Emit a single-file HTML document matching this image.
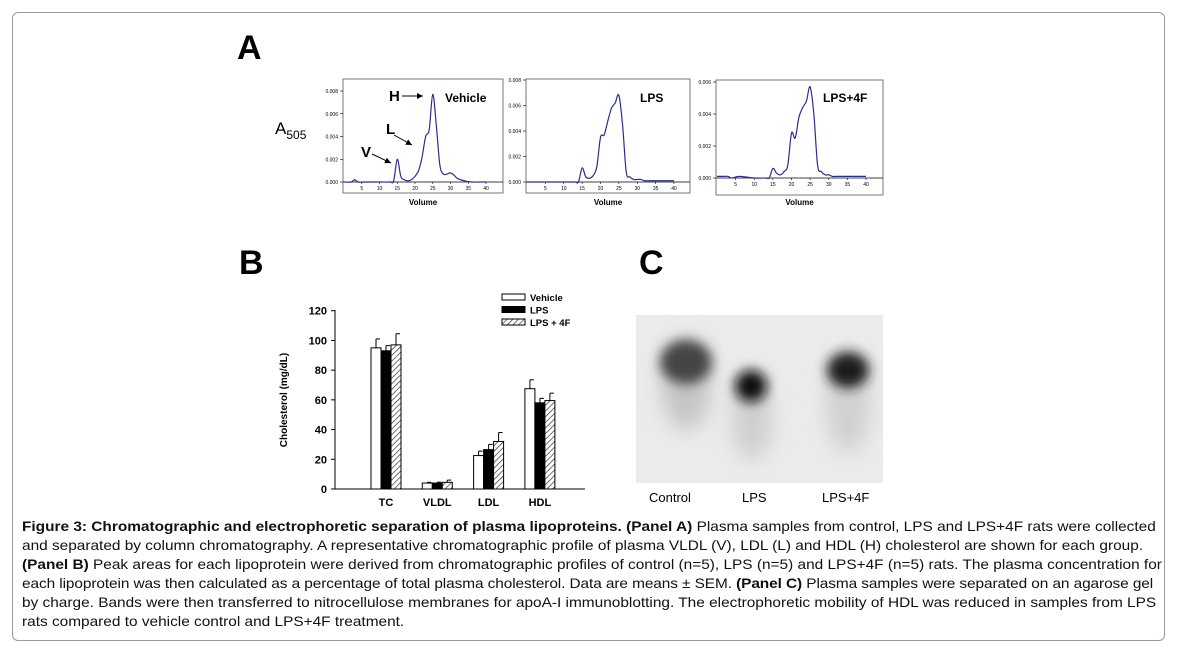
<!DOCTYPE html>
<html><head><meta charset="utf-8">
<style>
body{margin:0;background:#fff;width:1180px;height:647px;overflow:hidden;font-family:"Liberation Sans",Arial,sans-serif}
#frame{position:absolute;left:12px;top:12px;width:1151px;height:627px;border:1px solid #9a9a9a;border-radius:6px}
.cap{position:absolute;left:22px;top:517px;font-size:14px;line-height:19px;color:#111;white-space:nowrap;transform:scaleX(1.1);transform-origin:0 0}
.cap div{height:19px}
</style></head><body>
<div id="frame"></div>
<svg id="fig" width="1180" height="647" style="position:absolute;left:0;top:0">
<defs>
<pattern id="hatch" width="4" height="4" patternUnits="userSpaceOnUse" patternTransform="rotate(45)">
<rect width="4" height="4" fill="#fff"/><line x1="0" y1="0" x2="0" y2="4" stroke="#333" stroke-width="1.4"/></pattern>
<filter id="blur" x="-100%" y="-100%" width="300%" height="300%"><feGaussianBlur stdDeviation="6"/></filter>
<filter id="blur2" x="-100%" y="-100%" width="300%" height="300%"><feGaussianBlur stdDeviation="10"/></filter>
<clipPath id="gelclip"><rect x="636" y="315" width="247" height="168"/></clipPath>
</defs>
<text x="237" y="59" font-size="34" font-weight="bold">A</text>
<text x="239" y="274" font-size="34" font-weight="bold">B</text>
<text x="639" y="274" font-size="34" font-weight="bold">C</text>
<text x="275" y="134" font-size="17">A<tspan font-size="12" dy="5">505</tspan></text>
<g id="chroms"></g>
<g id="bars"></g>
<g id="gel" clip-path="url(#gelclip)">
<rect x="636" y="315" width="247" height="168" fill="#ebebeb"/>
<ellipse cx="686" cy="385" rx="24" ry="45" fill="#c4c4c4" filter="url(#blur2)"/>
<ellipse cx="686" cy="362" rx="26" ry="22" fill="#444" filter="url(#blur)"/>
<ellipse cx="752" cy="420" rx="20" ry="40" fill="#cfcfcf" filter="url(#blur2)"/>
<ellipse cx="751" cy="386" rx="16" ry="16" fill="#111" filter="url(#blur)"/>
<ellipse cx="848" cy="405" rx="22" ry="48" fill="#d0d0d0" filter="url(#blur2)"/>
<ellipse cx="848" cy="370" rx="21" ry="18" fill="#1a1a1a" filter="url(#blur)"/>
</g>
<text x="649" y="502" font-size="13">Control</text>
<text x="742" y="502" font-size="13">LPS</text>
<text x="822" y="502" font-size="13">LPS+4F</text>
</svg>
<div class="cap">
<div><b>Figure 3: Chromatographic and electrophoretic separation of plasma lipoproteins. (Panel A)</b> Plasma samples from control, LPS and LPS+4F rats were collected</div>
<div>and separated by column chromatography. A representative chromatographic profile of plasma VLDL (V), LDL (L) and HDL (H) cholesterol are shown for each group.</div>
<div><b>(Panel B)</b> Peak areas for each lipoprotein were derived from chromatographic profiles of control (n=5), LPS (n=5) and LPS+4F (n=5) rats. The plasma concentration for</div>
<div style="letter-spacing:-0.08px">each lipoprotein was then calculated as a percentage of total plasma cholesterol. Data are means ± SEM. <b>(Panel C)</b> Plasma samples were separated on an agarose gel</div>
<div>by charge. Bands were then transferred to nitrocellulose membranes for apoA-I immunoblotting. The electrophoretic mobility of HDL was reduced in samples from LPS</div>
<div>rats compared to vehicle control and LPS+4F treatment.</div>
</div>
<script>
const NS='http://www.w3.org/2000/svg';
function mk(p,t,a){const e=document.createElementNS(NS,t);for(const k in a)e.setAttribute(k,a[k]);p.appendChild(e);return e;}
// ---- Panel A data ----
const volume=[0,2,3,4,6,10,13,14,15,16,17,18,19,20,21,22,23,24,25,26,27,28,29,30,31,32,34,36,40];
const vehicleAbs=[0,0,0.0002,0,0,0,0,0.0001,0.002,0.0005,0.0002,0.0001,0.0002,0.0005,0.001,0.0022,0.004,0.0046,0.0077,0.005,0.0015,0.0007,0.0007,0.0008,0.0006,0.0003,0.0001,0,0];
const lpsAbs=[0,0,0,0,0,0,0,0,0.0011,0.0004,0.0003,0.0005,0.0012,0.0035,0.0037,0.0048,0.0058,0.0062,0.0068,0.0045,0.0008,0.0004,0.0002,0.0002,0.0002,0.0001,0.0001,0.0001,0.0001];
const lps4fAbs=[0.0001,0.0001,0.0001,0,0.0001,0,0,0,0.0006,0.0003,0.0002,0.0004,0.0008,0.0028,0.0025,0.0038,0.0044,0.0048,0.0057,0.004,0.0008,0.0004,0.0002,0.0002,0.0001,0.0001,0.0001,0.0001,0.0001];
const chromPanels=[
 {name:'vehicle',title:'Vehicle',vals:vehicleAbs,box:[343,79,503,193],zero:182,yMax:0.008,top:91,x0:344,x40:486,tx:445},
 {name:'lps',title:'LPS',vals:lpsAbs,box:[526,79,690,193],zero:182,yMax:0.008,top:80,x0:527,x40:674,tx:640},
 {name:'lps-4f',title:'LPS+4F',vals:lps4fAbs,box:[716,80,883,195],zero:178,yMax:0.006,top:82,x0:717,x40:866,tx:823}
];
const yTickA=[0,0.002,0.004,0.006,0.008];
const xTickA=[5,10,15,20,25,30,35,40];
const gc=document.getElementById('chroms');
chromPanels.forEach(p=>{
 const g=mk(gc,'g',{});
 
 
 const [l,t,r,b]=p.box;
 mk(g,'rect',{x:l,y:t,width:r-l,height:b-t,fill:'#fff',stroke:'#777','stroke-width':1});
 const X=v=>p.x0+(p.x40-p.x0)*v/40;
 const Y=a=>p.zero-(p.zero-p.top)*a/p.yMax;
 mk(g,'line',{x1:l,x2:r,y1:p.zero,y2:p.zero,stroke:'#000','stroke-width':0.8});
 yTickA.filter(v=>v<=p.yMax+1e-9).forEach(v=>{
  mk(g,'line',{x1:l-3,x2:l,y1:Y(v),y2:Y(v),stroke:'#000','stroke-width':0.6});
  const tx=mk(g,'text',{x:l-5,y:Y(v)+2,'font-size':5,'text-anchor':'end'});tx.textContent=v.toFixed(3);
 });
 xTickA.forEach(v=>{
  mk(g,'line',{x1:X(v),x2:X(v),y1:p.zero,y2:p.zero+2,stroke:'#000','stroke-width':0.6});
  const tx=mk(g,'text',{x:X(v),y:p.zero+8,'font-size':5,'text-anchor':'middle'});tx.textContent=v;
 });
 const pts=volume.map((v,i)=>[X(v),Y(p.vals[i])]);
 let d='M'+pts[0][0]+','+pts[0][1];
 for(let i=0;i<pts.length-1;i++){
  const p0=pts[Math.max(0,i-1)],p1=pts[i],p2=pts[i+1],p3=pts[Math.min(pts.length-1,i+2)];
  d+=' C'+(p1[0]+(p2[0]-p0[0])/6)+','+(p1[1]+(p2[1]-p0[1])/6)+' '+(p2[0]-(p3[0]-p1[0])/6)+','+(p2[1]-(p3[1]-p1[1])/6)+' '+p2[0]+','+p2[1];
 }
 const ln=mk(g,'path',{d:d,fill:'none',stroke:'#2a2e8a','stroke-width':1.2});
 
 
 const tt=mk(g,'text',{x:p.tx,y:102,'font-size':12,'font-weight':'bold'});tt.textContent=p.title;
 const vl=mk(g,'text',{x:(l+r)/2,y:205,'font-size':8,'font-weight':'bold','text-anchor':'middle'});vl.textContent='Volume';
});
(function(){const g=mk(gc,'g',{});
 
 
 [['H',389,101,'M402,96 L423,96'],['L',386,134,'M394,135 L412,145'],['V',361,157,'M372,154 L391,163']].forEach(a=>{
  const t=mk(g,'text',{x:a[1],y:a[2],'font-size':15,'font-weight':'bold'});t.textContent=a[0];
  mk(g,'path',{d:a[3],stroke:'#000','stroke-width':1,fill:'none'});
  const m=a[3].match(/[\d.]+/g).map(Number);const ang=Math.atan2(m[3]-m[1],m[2]-m[0]);
  const ex=m[2],ey=m[3];
  mk(g,'polygon',{points:`${ex},${ey} ${ex-6*Math.cos(ang)+3*Math.sin(ang)},${ey-6*Math.sin(ang)-3*Math.cos(ang)} ${ex-6*Math.cos(ang)-3*Math.sin(ang)},${ey-6*Math.sin(ang)+3*Math.cos(ang)}`,fill:'#000'});
 });
})();
// ---- Panel B data ----
const categories=['TC','VLDL','LDL','HDL'];
const vehicleMean=[95,4,22.5,67.5];
const vehicleErr=[6,0.5,3,6];
const lpsMean=[93,4,26.5,58];
const lpsErr=[3.5,0.6,3.5,3];
const lps4fMean=[97,4.5,32,59.5];
const lps4fErr=[7.5,1.5,6,5];
const yTicksB=[0,20,40,60,80,100,120];
const gb=document.getElementById('bars');
const Yb=v=>489-(489-310.7)*v/120;
const Xc=i=>386+51.3*i;
mk(gb,'line',{x1:335,x2:335,y1:310,y2:489,stroke:'#000','stroke-width':1});
mk(gb,'line',{x1:335,x2:585,y1:489,y2:489,stroke:'#000','stroke-width':1});
yTicksB.forEach(v=>{
 mk(gb,'line',{x1:331,x2:335,y1:Yb(v),y2:Yb(v),stroke:'#000'});
 const t=mk(gb,'text',{x:327,y:Yb(v)+4,'font-size':11,'font-weight':'bold','text-anchor':'end'});t.textContent=v;
});
const yt=mk(gb,'text',{x:0,y:0,'font-size':10,'font-weight':'bold','text-anchor':'middle',transform:'translate(287,400) rotate(-90)'});yt.textContent='Cholesterol (mg/dL)';
const series=[[vehicleMean,vehicleErr,'#fff','vehicle'],[lpsMean,lpsErr,'#000','lps'],[lps4fMean,lps4fErr,'url(#hatch)','lps-4f']];
categories.forEach((c,i)=>{
 series.forEach((s,j)=>{
  const x=Xc(i)-15+10*j, y=Yb(s[0][i]);
  const ey=Yb(s[0][i]+s[1][i]);
  mk(gb,'line',{x1:x+5,x2:x+5,y1:ey,y2:y,stroke:'#000'});
  mk(gb,'line',{x1:x+5,x2:x+9,y1:ey,y2:ey,stroke:'#000'});
  const r=mk(gb,'rect',{x:x,y:y,width:10,height:489-y,fill:s[2],stroke:'#000','stroke-width':1});
  
  
 });
 const t=mk(gb,'text',{x:Xc(i),y:506,'font-size':11,'font-weight':'bold','text-anchor':'middle'});t.textContent=c;
});
[['Vehicle','#fff'],['LPS','#000'],['LPS + 4F','url(#hatch)']].forEach((l,k)=>{
 const g=mk(gb,'g',{});
 
 
 mk(g,'rect',{x:502,y:294+12.5*k,width:23,height:6,fill:l[1],stroke:'#000'});
 const t=mk(g,'text',{x:530,y:301+12.5*k,'font-size':9.5,'font-weight':'bold'});t.textContent=l[0];
});
</script>
</body></html>
